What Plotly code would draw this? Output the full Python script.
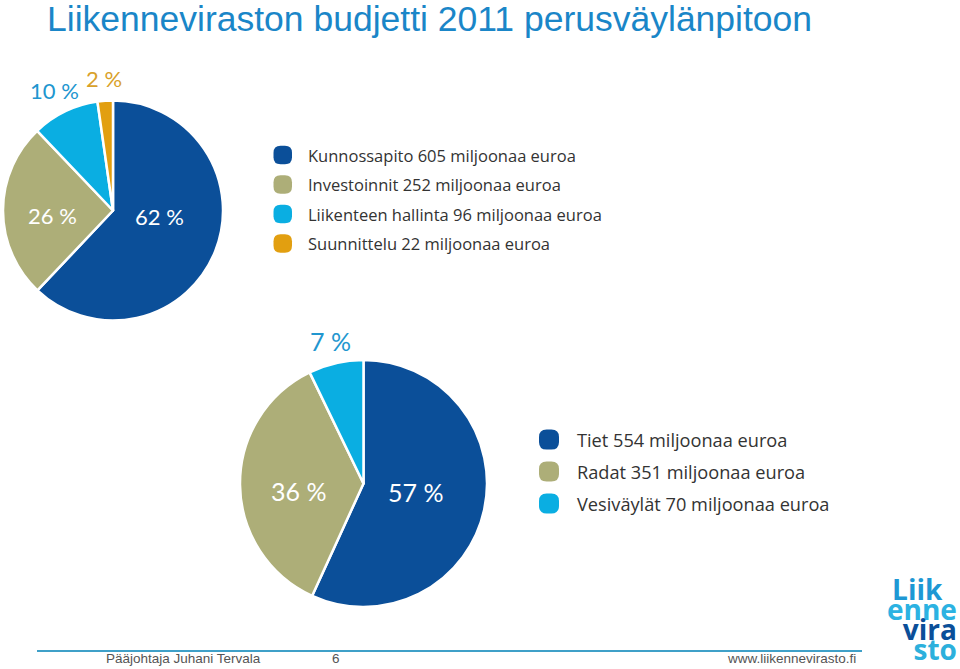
import math
import plotly.graph_objects as go

W, H = 960, 669

# ---- data ----
budget_labels = ["Kunnossapito", "Investoinnit", "Liikenteen hallinta", "Suunnittelu"]
budget_values = [605, 252, 96, 22]
mode_labels = ["Tiet", "Radat", "Vesiväylät"]
mode_values = [554, 351, 70]
unit_text = "miljoonaa euroa"

# ---- styles ----
BLUE = "#0b4f99"
OLIVE = "#adae78"
CYAN = "#0aaee2"
ORANGE = "#e29f10"
budget_colors = [BLUE, OLIVE, CYAN, ORANGE]
mode_colors = [BLUE, OLIVE, CYAN]
LFONT = "Lato, 'Open Sans', sans-serif"
GFONT = "'Open Sans', Lato, sans-serif"


def px(x):
    return x / W


def py(y):
    return 1 - y / H


fig = go.Figure()

pies = [
    dict(values=budget_values, labels=budget_labels, colors=budget_colors,
         cx=113, cy=210.5, r=110, fsize=22,
         lab=[(0.43, -15, "white"), (0.55, -5, "white"), (1.21, 0, "#2196cf"), (1.2, 0, "#d9a12a")]),
    dict(values=mode_values, labels=mode_labels, colors=mode_colors,
         cx=363.5, cy=483.5, r=123.5, fsize=25,
         lab=[(0.43, -3, "white"), (0.53, -6, "white"), (1.18, 0, "#2196cf")]),
]

annotations = []
shapes = []

for p in pies:
    cx, cy, r = p["cx"], p["cy"], p["r"]
    fig.add_trace(go.Pie(
        values=p["values"], labels=p["labels"], sort=False, direction="clockwise",
        rotation=0, textinfo="none", hoverinfo="label+value+percent",
        marker=dict(colors=p["colors"], line=dict(color="white", width=2.5)),
        domain=dict(x=[px(cx - r), px(cx + r)], y=[py(cy + r), py(cy - r)]),
        showlegend=False,
    ))
    total = sum(p["values"])
    cum = 0
    for v, (rf, nudge, col) in zip(p["values"], p["lab"]):
        mid = (cum + v / 2) / total * 360 + nudge
        cum += v
        a = math.radians(mid)
        lx = cx + rf * r * math.sin(a)
        ly = cy - rf * r * math.cos(a)
        annotations.append(dict(
            x=px(lx), y=py(ly), xref="paper", yref="paper", showarrow=False,
            text=f"{round(v / total * 100)} %", xanchor="center", yanchor="middle",
            font=dict(family=LFONT, size=p["fsize"], color=col)))


def rounded_square(x0, y0, size, rad):
    x1, y1 = x0 + size, y0 + size
    pts = [
        ("M", x0 + rad, y0), ("L", x1 - rad, y0), ("Q", x1, y0, x1, y0 + rad),
        ("L", x1, y1 - rad), ("Q", x1, y1, x1 - rad, y1), ("L", x0 + rad, y1),
        ("Q", x0, y1, x0, y1 - rad), ("L", x0, y0 + rad), ("Q", x0, y0, x0 + rad, y0),
    ]
    s = ""
    for cmd in pts:
        c = cmd[0]
        coords = cmd[1:]
        parts = []
        for i in range(0, len(coords), 2):
            parts.append(f"{px(coords[i]):.5f},{py(coords[i + 1]):.5f}")
        s += c + " " + " ".join(parts) + " "
    return s + "Z"


legends = [
    dict(labels=budget_labels, values=budget_values, colors=budget_colors,
         mx=273.5, tx=306, y0=155, dy=29.5, msize=18.5, fsize=16.5),
    dict(labels=mode_labels, values=mode_values, colors=mode_colors,
         mx=539, tx=575, y0=439.5, dy=32, msize=20, fsize=18.2),
]
for lg in legends:
    for i, (lab, val, col) in enumerate(zip(lg["labels"], lg["values"], lg["colors"])):
        yc = lg["y0"] + i * lg["dy"]
        s = lg["msize"]
        shapes.append(dict(type="path", xref="paper", yref="paper",
                           path=rounded_square(lg["mx"], yc - s / 2, s, s * 0.38),
                           fillcolor=col, line=dict(width=0)))
        annotations.append(dict(
            x=px(lg["tx"]), y=py(yc), xref="paper", yref="paper", showarrow=False,
            text=f"{lab} {val} {unit_text}", xanchor="left", yanchor="middle",
            font=dict(family=GFONT, size=lg["fsize"], color="#333333")))

# title
annotations.append(dict(
    x=px(45), y=py(18.5), xref="paper", yref="paper", showarrow=False,
    text="Liikenneviraston budjetti 2011 perusväylänpitoon", xanchor="left", yanchor="middle",
    font=dict(family="'Liberation Sans', Arial, sans-serif", size=35.5, color="#1a86c8")))

# footer
shapes.append(dict(type="line", xref="paper", yref="paper", x0=px(37), x1=px(862),
                   y0=py(651), y1=py(651), line=dict(color="#3fa0c8", width=2)))
FFONT = "'Liberation Sans Narrow', 'Liberation Sans', Arial, sans-serif"
for txt, x, anchor in [("Pääjohtaja Juhani Tervala", 104, "left"), ("6", 330, "left"),
                       ("www.liikennevirasto.fi", 858, "right")]:
    annotations.append(dict(
        x=px(x), y=py(658), xref="paper", yref="paper", showarrow=False, text=txt,
        xanchor=anchor, yanchor="middle",
        font=dict(family=FFONT, size=13.5, color="#555555")))

# logo (one text block, tight line spacing)
logo_parts = [("Liik\u00a0\u00a0", "#1e98d4"), ("enne", "#2cb2e2"),
              ("vira", "#0b4f99"), ("sto", "#2cb0dc")]
logo_text = "<br>".join(
    f"<span style='font-size:28px;color:{c}'><b>{t}</b></span>" for t, c in logo_parts)
annotations.append(dict(
    x=px(959), y=py(619), xref="paper", yref="paper", showarrow=False, text=logo_text,
    xanchor="right", yanchor="middle", align="right",
    font=dict(family="'Open Sans', sans-serif", size=15.4, color="#2cb2e2")))

fig.update_layout(
    width=W, height=H, margin=dict(l=0, r=0, t=0, b=0),
    paper_bgcolor="white", plot_bgcolor="white",
    annotations=annotations, shapes=shapes, showlegend=False,
)

fig.write_html("out.html", config={"displayModeBar": False},
               post_script="document.body.style.margin='0';document.body.style.overflow='hidden';")
